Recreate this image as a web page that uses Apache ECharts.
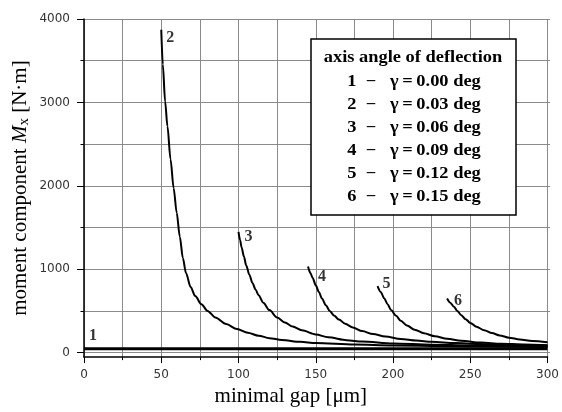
<!DOCTYPE html>
<html>
<head>
<meta charset="utf-8">
<script src="https://cdn.jsdelivr.net/npm/echarts@6/dist/echarts.min.js"></script>
<style>
  html, body { margin: 0; padding: 0; background: #fff; }
  #chart { width: 562px; height: 412px; }
</style>
</head>
<body>
<div id="chart"></div>
<script>
// Curve identifiers and the axis deflection angle each one belongs to
const curveIds = ['1', '2', '3', '4', '5', '6'];
const deflectionDeg = [0.00, 0.03, 0.06, 0.09, 0.12, 0.15];

// Minimal gap [µm] and moment component Mx [N·m] for every curve
const gap1 = [0, 300];
const moment1 = [0, 0];

const gap2 = [50, 51, 52.5, 54, 56, 58, 60, 62, 64, 66, 69, 72, 76, 80, 85, 92, 99, 106, 113, 120, 128, 140, 150, 175, 200, 250, 300];
const moment2 = [3870, 3450, 3000, 2700, 2300, 1950, 1650, 1360, 1100, 920, 750, 640, 540, 460, 380, 300, 240, 195, 160, 130, 108, 85, 72, 52, 40, 28, 22];

const gap3 = [100, 101, 102, 103.5, 105, 107, 109, 111, 113, 116, 120, 125, 130, 135, 141, 150, 158, 170, 180, 200, 225, 250, 275, 300];
const moment3 = [1420, 1320, 1230, 1120, 1010, 900, 800, 720, 650, 560, 470, 380, 320, 270, 225, 175, 140, 105, 88, 65, 50, 42, 36, 32];

const gap4 = [145, 146.5, 148, 150, 152, 154, 156.5, 159, 162, 165, 169, 174, 180, 187, 195, 205, 215, 225, 240, 255, 275, 300];
const moment4 = [1000, 920, 860, 770, 690, 610, 530, 460, 400, 355, 305, 260, 215, 180, 150, 120, 100, 86, 70, 60, 50, 42];

const gap5 = [190, 192, 194.4, 196.5, 198.7, 202, 205, 209, 214, 220, 227, 235, 244, 257, 270, 285, 300];
const moment5 = [760, 690, 610, 540, 470, 400, 340, 283, 232, 190, 152, 122, 97, 76, 63, 52, 45];

const gap6 = [235, 237, 239.5, 241.5, 244, 247, 250, 254, 259, 264, 269, 275, 282, 290, 300];
const moment6 = [610, 560, 510, 462, 412, 360, 315, 268, 226, 192, 163, 136, 113, 95, 80];

// Axis ranges and tick steps
const gapRange = [0, 300];
const gapStep = 50;
const momentRange = [0, 4000];
const momentStep = 1000;
const momentFloor = -100; // the gap axis sits slightly below zero

const gaps = [gap1, gap2, gap3, gap4, gap5, gap6];
const moments = [moment1, moment2, moment3, moment4, moment5, moment6];

// Where each curve number sits relative to the curve's first point
const tagPlacement = [
  { distance: 5, offset: [0, -13] },
  { distance: 5, offset: [0, 8] },
  { distance: 6, offset: [0, 5] },
  { distance: 10, offset: [0, 10] },
  { distance: 5, offset: [0, -2] },
  { distance: 7, offset: [0, 2] }
];

const serif = '"Liberation Serif", "Times New Roman", serif';
const gridColor = '#8a8a8a';

const curveSeries = curveIds.map(function (id, k) {
  return {
    name: id,
    type: 'line',
    xAxisIndex: 0,
    yAxisIndex: 0,
    data: gaps[k].map(function (g, i) { return [g, moments[k][i]]; }),
    showSymbol: false,
    symbol: 'none',
    smooth: 0.3,
    smoothMonotone: 'x',
    lineStyle: { color: '#000', width: k === 0 ? 3 : 2 },
    z: 5
  };
});

// Curve numbers, attached to the first point of each curve
const tagSeries = {
  type: 'scatter',
  xAxisIndex: 0,
  yAxisIndex: 0,
  symbolSize: 0,
  silent: true,
  z: 6,
  data: curveIds.map(function (id, k) {
    return {
      value: [gaps[k][0], moments[k][0]],
      label: {
        show: true,
        formatter: id,
        position: 'right',
        distance: tagPlacement[k].distance,
        offset: tagPlacement[k].offset,
        fontFamily: serif,
        fontWeight: 'bold',
        fontSize: 16,
        color: '#000'
      }
    };
  })
};

// Key box: heading plus one line per curve
const keyLines = curveIds.map(function (id, k) {
  return id + '  \u2212   \u03b3\u2009=\u2009' + deflectionDeg[k].toFixed(2) + ' deg';
});
const keyX = 414;
const keyFont = 'bold 16px ' + serif;
const keyChildren = [
  {
    type: 'rect',
    shape: { x: 311, y: 39, width: 205, height: 176 },
    style: { fill: '#fff', stroke: '#000', lineWidth: 1.5 },
    z: 100
  },
  {
    type: 'text',
    x: 413, y: 58,
    scaleX: 1.15,
    style: { text: 'axis angle of deflection', align: 'center', verticalAlign: 'middle', font: keyFont, fill: '#000' },
    z: 101
  }
].concat(keyLines.map(function (t, k) {
  return {
    type: 'text',
    x: keyX, y: 82 + k * 23,
    scaleX: 1.15,
    style: { text: t, align: 'center', verticalAlign: 'middle', font: keyFont, fill: '#000' },
    z: 101
  };
}));

const plainNumber = function (v) { return String(v); };

const chart = echarts.init(document.getElementById('chart'), null, { renderer: 'canvas' });
chart.setOption({
  backgroundColor: '#fff',
  animation: false,
  grid: [
    // plotting area, reaching down to the gap axis
    { left: 84, right: 12, top: 19, bottom: 51 },
    // same area from the zero line up, carries the moment scale
    { left: 84, right: 12, top: 19, bottom: 59.3 }
  ],
  xAxis: [
    {
      gridIndex: 0,
      type: 'value',
      min: gapRange[0], max: gapRange[1], interval: gapStep,
      name: 'minimal gap [\u03bcm]',
      nameLocation: 'middle',
      nameGap: 25,
      nameTextStyle: { fontFamily: serif, fontSize: 21, color: '#000', padding: [0, 50, 0, 0] },
      axisLine: { show: true, onZero: false, lineStyle: { color: '#000', width: 1.5 } },
      axisTick: { show: true, inside: false, length: 6, lineStyle: { color: '#000' } },
      minorTick: { show: true, splitNumber: 2, length: 3, lineStyle: { color: '#000' } },
      axisLabel: { margin: 12, formatter: plainNumber, fontFamily: '"DejaVu Sans", sans-serif', fontSize: 12, color: '#333' },
      splitLine: { show: true, lineStyle: { color: gridColor, width: 1 } },
      minorSplitLine: { show: true, lineStyle: { color: gridColor, width: 1 } }
    },
    {
      gridIndex: 1,
      type: 'value',
      min: gapRange[0], max: gapRange[1],
      show: false
    }
  ],
  yAxis: [
    {
      gridIndex: 0,
      type: 'value',
      min: momentFloor, max: momentRange[1],
      axisLine: { show: true, onZero: false, lineStyle: { color: '#000', width: 1.5 } },
      axisTick: { show: false },
      axisLabel: { show: false },
      splitLine: { show: false },
      name: 'moment component {i|M}{s|x} [N\u00b7m]',
      nameLocation: 'middle',
      nameRotate: 90,
      nameGap: 52,
      nameTextStyle: {
        fontFamily: serif, fontSize: 21, color: '#000',
        rich: {
          i: { fontFamily: serif, fontSize: 21, fontStyle: 'italic', color: '#000' },
          s: { fontFamily: serif, fontSize: 15, color: '#000', padding: [8, 0, 0, 0] }
        }
      }
    },
    {
      gridIndex: 1,
      type: 'value',
      min: momentRange[0], max: momentRange[1], interval: momentStep,
      axisLine: { show: false },
      axisTick: { show: true, inside: false, length: 7, lineStyle: { color: '#000' } },
      minorTick: { show: true, splitNumber: 2, length: 3.5, lineStyle: { color: '#000' } },
      axisLabel: { margin: 14, formatter: plainNumber, fontFamily: '"DejaVu Sans", sans-serif', fontSize: 12, color: '#333' },
      splitLine: { show: true, lineStyle: { color: gridColor, width: 1 } },
      minorSplitLine: { show: true, lineStyle: { color: gridColor, width: 1 } }
    }
  ],
  series: curveSeries.concat([tagSeries]),
  graphic: [{ type: 'group', children: keyChildren }]
});
</script>
</body>
</html>
